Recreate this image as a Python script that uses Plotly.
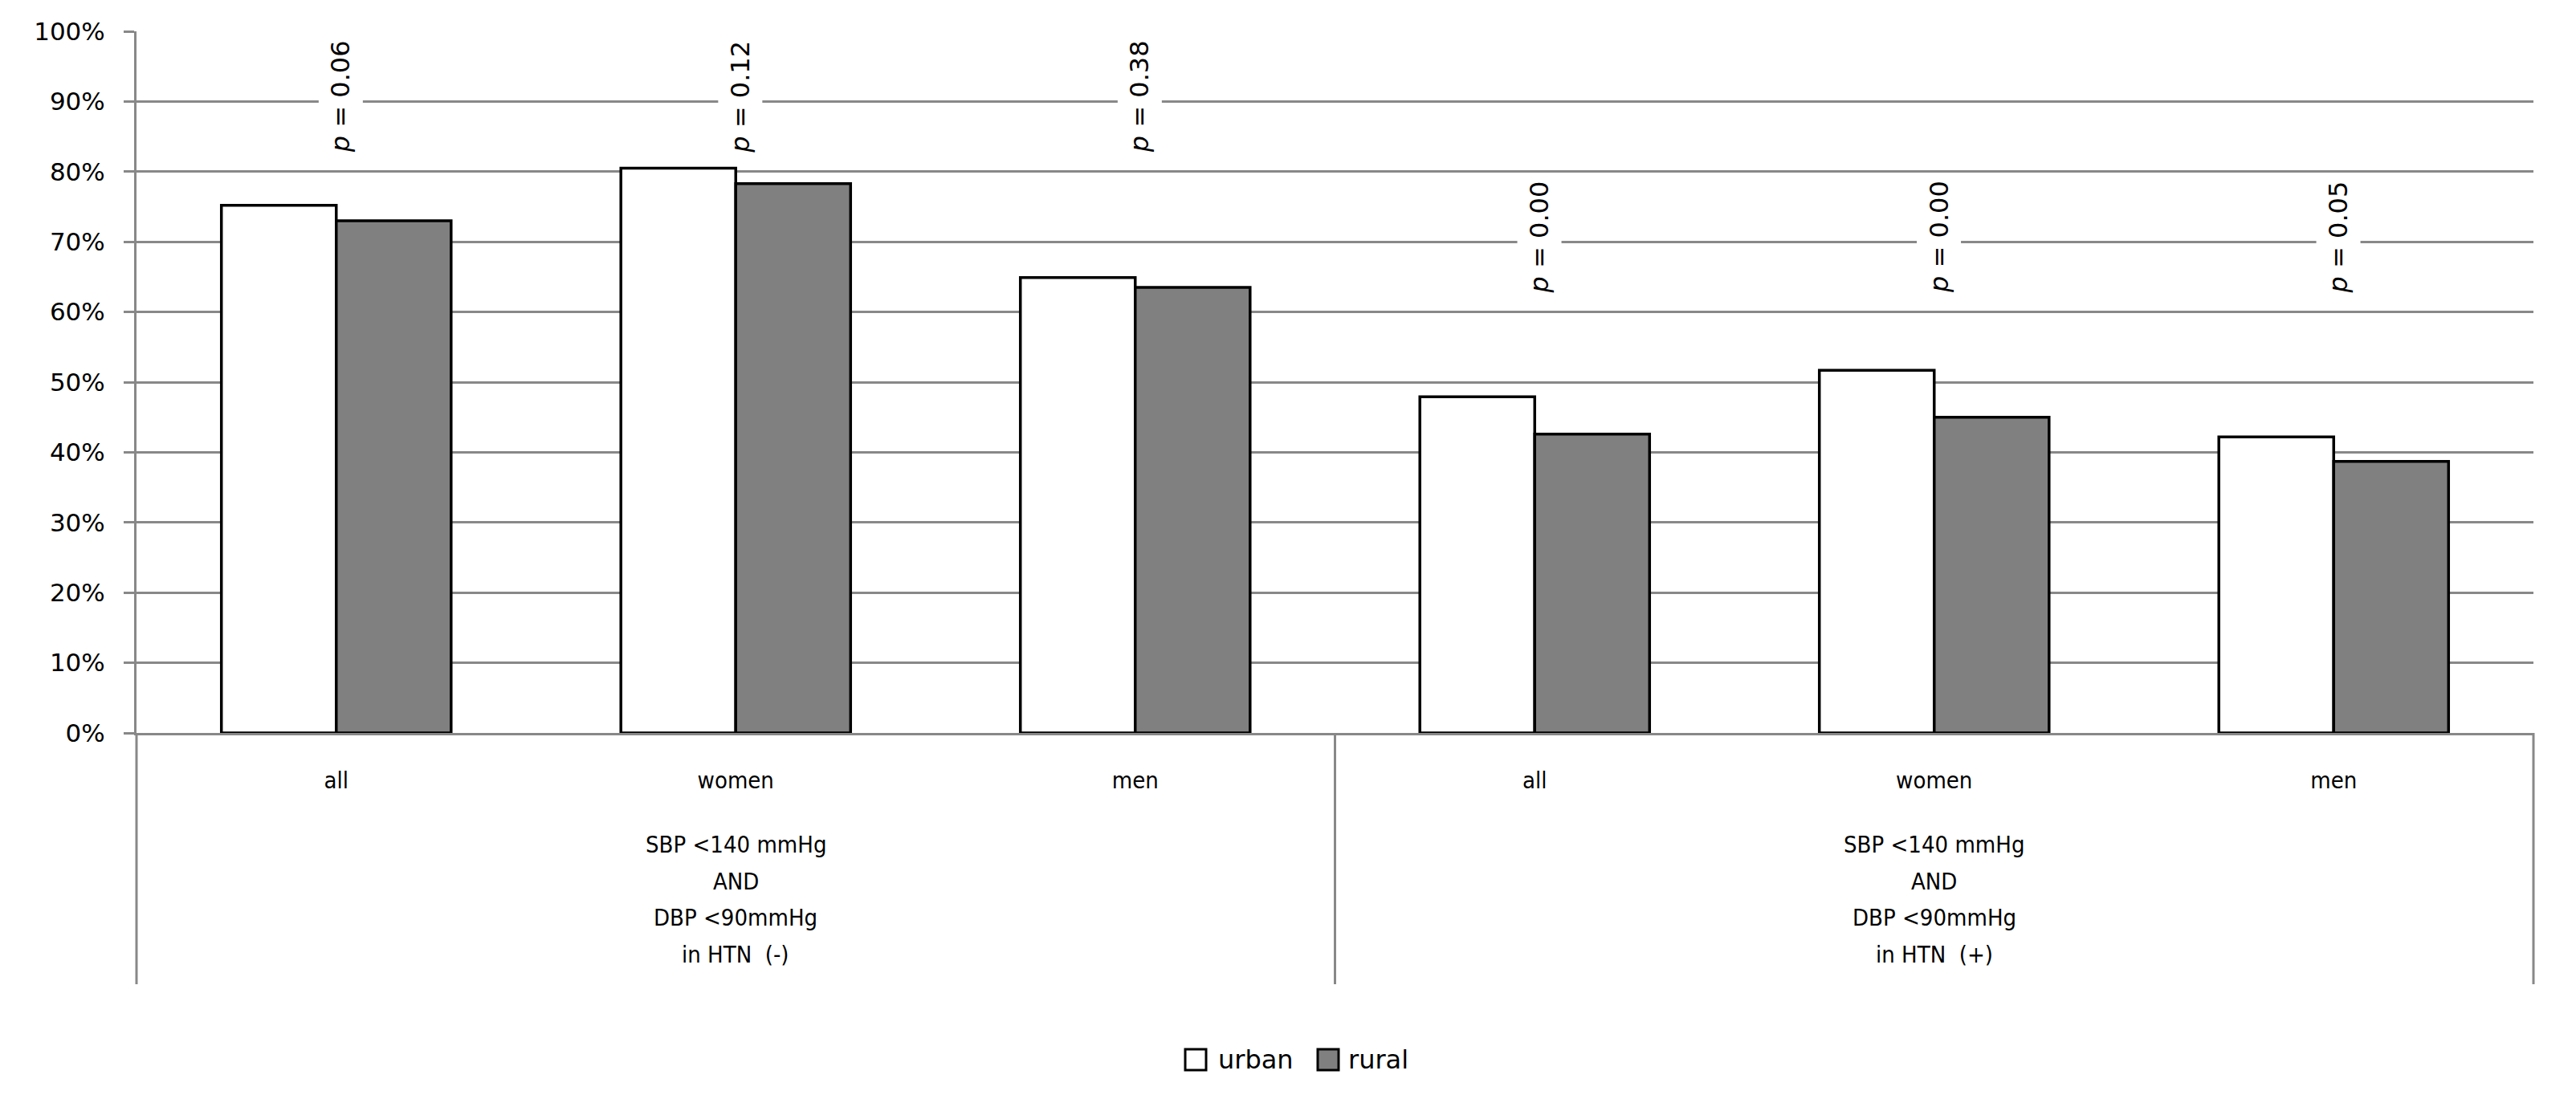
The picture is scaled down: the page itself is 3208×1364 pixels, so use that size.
import plotly.graph_objects as go

# ---- data ----
subgroups = ["all", "women", "men", "all", "women", "men"]
group_lines = [
    ["SBP <140 mmHg", "AND", "DBP <90mmHg", "in HTN  (-)"],
    ["SBP <140 mmHg", "AND", "DBP <90mmHg", "in HTN  (+)"],
]
urban = [75.2, 80.5, 64.9, 47.9, 51.7, 42.2]
rural = [73.0, 78.3, 63.5, 42.6, 45.0, 38.7]
p_values = ["0.06", "0.12", "0.38", "0.00", "0.00", "0.05"]
y_ticks = [0, 10, 20, 30, 40, 50, 60, 70, 80, 90, 100]

# ---- geometry (page has an 8px body margin; compensate) ----
OFF = 8
W, H = 3208 - OFF, 1364 - OFF
L, R, T, B = 170 - OFF, 53, 39 - OFF, 451
PW = W - L - R
PH = H - T - B
BOTTOM_PX = H - B          # in figure coords
REF_BOTTOM = BOTTOM_PX + OFF  # in page coords (913)


def px_x(X):
    return (X - OFF - L) / PW


def px_y(Y):
    return (BOTTOM_PX - (Y - OFF)) / PH


GRAY = "#888888"
TICK_FONT = dict(family="DejaVu Sans", size=31, color="black")
CAT_FONT = dict(family="DejaVu Sans Condensed, Liberation Sans Narrow, sans-serif",
                size=29, color="black")
P_FONT = dict(family="DejaVu Sans", size=32, color="black")

xs = list(range(len(subgroups)))

fig = go.Figure()
fig.add_bar(x=xs, y=[v / 100 for v in urban], name="urban",
            marker=dict(color="white", line=dict(color="black", width=3.5)),
            showlegend=False)
fig.add_bar(x=xs, y=[v / 100 for v in rural], name="rural",
            marker=dict(color="#808080", line=dict(color="black", width=3.5)),
            showlegend=False)

annotations = []
# p-value labels
n_per_group = len(subgroups) // len(group_lines)
for i, p in enumerate(p_values):
    level = 0.9 if i < n_per_group else 0.7
    annotations.append(dict(
        x=i, y=level, xref="x", yref="y", text=f"<i>p</i> = {p}",
        textangle=-90, showarrow=False, font=P_FONT, bgcolor="white",
        borderpad=8, xshift=6, yshift=6,
    ))

# group labels
for g, lines in enumerate(group_lines):
    xc = g * n_per_group + (n_per_group - 1) / 2
    for j, line in enumerate(lines):
        annotations.append(dict(
            x=xc, y=0, xref="x", yref="paper", text=line, showarrow=False,
            font=CAT_FONT, yanchor="middle", yshift=-(1052 - REF_BOTTOM) - j * 45.7,
        ))

shapes = []
# group divider lines below the axis
line_bottom = px_y(1226)
for xv, ref in [(0, "paper"), (n_per_group - 0.5, "x"), (1, "paper")]:
    shapes.append(dict(type="line", xref=ref, yref="paper", x0=xv, x1=xv,
                       y0=0, y1=line_bottom, line=dict(color=GRAY, width=3)))

# legend (manual)
legend_items = [("urban", "white", 1476, 1515), ("rural", "#808080", 1641, 1677)]
for name, col, bx, tx in legend_items:
    shapes.append(dict(type="rect", xref="paper", yref="paper",
                       x0=px_x(bx), x1=px_x(bx + 26), y0=px_y(1307), y1=px_y(1333),
                       fillcolor=col, line=dict(color="black", width=3)))
    annotations.append(dict(x=px_x(tx), y=px_y(1320), xref="paper", yref="paper",
                            text=name, showarrow=False, xanchor="left", yanchor="middle",
                            font=dict(family="DejaVu Sans", size=32, color="black")))

fig.update_layout(
    width=W, height=H,
    margin=dict(l=L, r=R, t=T, b=B, pad=0),
    paper_bgcolor="white", plot_bgcolor="white",
    barmode="group", bargap=0.425, bargroupgap=0,
    showlegend=False,
    annotations=annotations, shapes=shapes,
)
fig.update_xaxes(
    range=[-0.5, len(subgroups) - 0.5], tickvals=xs, ticktext=subgroups,
    ticks="", showgrid=False, showline=True, linecolor=GRAY, linewidth=3,
    tickfont=CAT_FONT, ticklabelstandoff=31, zeroline=False,
)
fig.update_yaxes(
    range=[0, 1], tickvals=[t / 100 for t in y_ticks], tickformat=".0%",
    ticks="outside", ticklen=13, tickcolor=GRAY, tickwidth=3,
    showgrid=True, gridcolor=GRAY, gridwidth=3,
    showline=True, linecolor=GRAY, linewidth=3, zeroline=False,
    tickfont=TICK_FONT, ticklabelstandoff=17,
)

fig.write_html("out.html")
